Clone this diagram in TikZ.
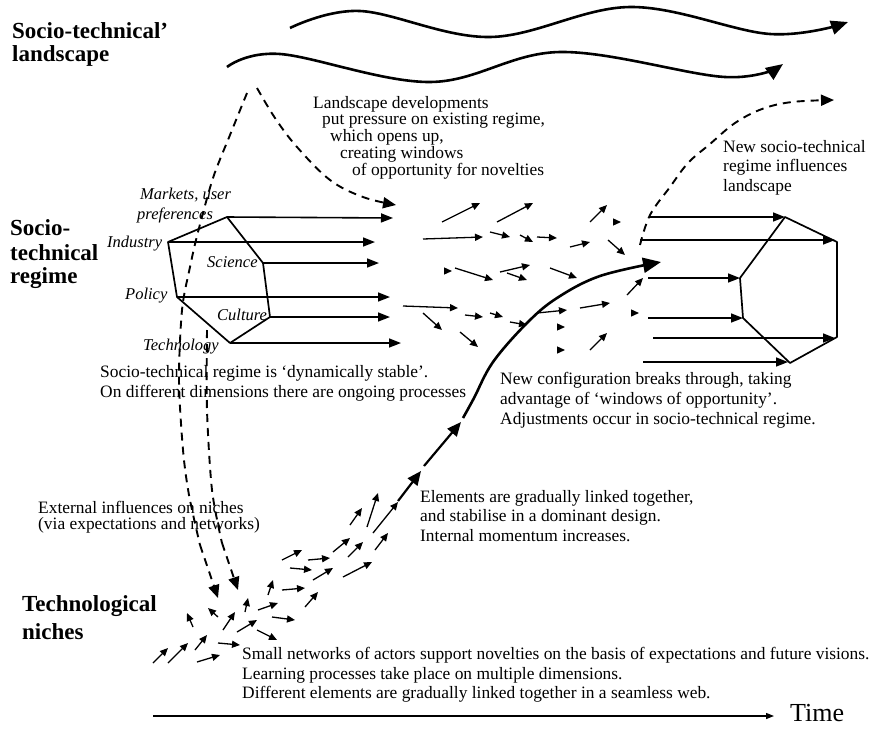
\documentclass[tikz,border=0pt]{standalone}
\usepackage{fontspec}
\setmainfont{Liberation Serif}
\usetikzlibrary{arrows.meta}

\begin{document}
\begin{tikzpicture}[x=1pt,y=-1pt,
  wave/.style={line width=2.6pt, -{Triangle[length=17pt,width=14pt]}},
  dashpath/.style={line width=1.9pt, dash pattern=on 8pt off 6pt},
  dashtip/.style={-{Triangle[length=13pt,width=11pt]}},
  regarrow/.style={line width=1.6pt, -{Triangle[length=12pt,width=9pt]}},
  hexline/.style={line width=1.7pt, line join=round},
  small/.style={line width=1.3pt, -{Triangle[length=8pt,width=7pt]}},
  traj/.style={line width=2.2pt, -{Triangle[length=14pt,width=12pt]}},
  trajbig/.style={line width=2.6pt, -{Triangle[length=18pt,width=15pt]}},
  timearrow/.style={line width=1.3pt, -{Triangle[length=8pt,width=6pt]}},
  level/.style={font=\fontsize{23}{26}\selectfont\bfseries, inner sep=0pt, anchor=west},
  dim/.style={font=\fontsize{16.5}{18}\selectfont\itshape, inner sep=0pt, anchor=west},
  txt/.style={font=\fontsize{17.4}{19}\selectfont, inner sep=0pt, anchor=west},
]
\useasboundingbox[fill=white] (0,0) rectangle (873,729);

% ---------- level titles ----------
\node[level] (tl1) at (12,31) {Socio-technical'};
\node[level] (tl2) at (12,56) {landscape};
\node[level] (tr1) at (10,228) {Socio-};
\node[level] (tr2) at (10,253) {technical};
\node[level] (tr3) at (10,278) {regime};
\node[level] (tn1) at (22,606) {Technological};
\node[level] (tn2) at (22,632) {niches};

% ---------- landscape trends ----------
\draw[wave] plot[smooth, tension=0.6] coordinates
  {(290,28) (360,11) (490,37) (630,7) (770,34) (848,22)};
\draw[wave] plot[smooth, tension=0.6] coordinates
  {(227,67) (280,54) (430,82) (560,52) (725,77) (783,64)};

% ---------- existing regime (left hexagon) ----------
\coordinate (mk) at (227,217);
\coordinate (in) at (168,242);
\coordinate (po) at (177,297);
\coordinate (te) at (230,343);
\coordinate (cu) at (270,317);
\coordinate (sc) at (263,263);
\draw[hexline] (mk) -- (in) -- (po) -- (te) -- (cu) -- (sc) -- cycle;

\coordinate (mkE) at (393,218);
\coordinate (inE) at (375,242);
\coordinate (scE) at (379,263);
\coordinate (poE) at (390,297);
\coordinate (cuE) at (390,317);
\coordinate (teE) at (401,343);
\draw[regarrow] (mk) -- (mkE);
\draw[regarrow] (in) -- (inE);
\draw[regarrow] (sc) -- (scE);
\draw[regarrow] (po) -- (poE);
\draw[regarrow] (cu) -- (cuE);
\draw[regarrow] (te) -- (teE);

\node[dim] (d1) at (140,195) {Markets, user};
\node[dim] (d2) at (137,215) {preferences};
\node[dim] (d3) at (107,244) {Industry};
\node[dim] (d4) at (207,262) {Science};
\node[dim] (d5) at (125,296) {Policy};
\node[dim] (d6) at (217,315) {Culture};
\node[dim] (d7) at (143,347) {Technology};

% ---------- new regime (right hexagon) ----------
\coordinate (r1) at (785,217);
\coordinate (r2) at (837,242);
\coordinate (r3) at (837,337);
\coordinate (r4) at (790,363);
\coordinate (r5) at (743,318);
\coordinate (r6) at (740,278);
\draw[hexline] (r1) -- (r2) -- (r3) -- (r4) -- (r5) -- (r6) -- cycle;

\coordinate (s1) at (650,217);
\coordinate (s2) at (640,240);
\coordinate (s3) at (648,278);
\coordinate (s4) at (648,318);
\coordinate (s5) at (653,338);
\coordinate (s6) at (643,362);
\draw[regarrow] (s1) -- (r1);
\draw[regarrow] (s2) -- (835,240);
\draw[regarrow] (s3) -- (r6);
\draw[regarrow] (s4) -- (r5);
\draw[regarrow] (s5) -- (835,338);
\draw[regarrow] (s6) -- (788,362);

% ---------- dashed influences ----------
\draw[dashpath] plot[smooth, tension=0.5] coordinates
  {(247,93) (230,135) (213,178) (198,232) (190,267) (182,310) (179,380) (183,450) (189,495) (200,545)};
\draw[dashpath, dashtip] (200,545) -- (218,598);
\draw[dashpath, dashtip] plot[smooth, tension=0.6] coordinates
  {(257,88) (275,118) (297,147) (330,180) (363,197) (396,205)};
\draw[dashpath] plot[smooth, tension=0.5] coordinates
  {(207,330) (207,410) (212,490) (222,543)};
\draw[dashpath, dashtip] (222,543) -- (238,590);
\draw[dashpath, dashtip] plot[smooth, tension=0.6] coordinates
  {(640,245) (650,215) (670,187) (688,163) (710,144) (735,123) (762,109) (792,102) (834,100)};

% ---------- loose elements around the regime ----------
\foreach \ax/\ay/\bx/\by in {
  442/222/480/203, 497/222/533/203, 590/222/607/205, 613/222/621/222,
  423/239/483/237, 490/232/510/237, 520/235/533/242, 537/237/557/238,
  570/247/590/242, 608/240/625/255,
  444/271/452/271, 455/268/493/280, 500/272/530/265, 507/273/527/280,
  550/268/577/278,
  403/306/458/308, 423/313/442/330, 465/315/483/317, 490/313/503/317,
  510/322/527/325, 537/313/567/310, 580/308/610/303, 460/332/478/347,
  557/327/565/327, 557/350/565/350, 590/350/607/333, 627/295/643/278,
  631/313/639/313}
  \draw[small] (\ax,\ay) -- (\bx,\by);

% ---------- niche elements ----------
\foreach \ax/\ay/\bx/\by in {
  153/663/168/648, 168/663/188/643, 195/650/207/635, 197/662/220/655,
  218/643/240/645, 193/627/187/613, 218/617/208/608, 223/630/235/612,
  237/632/257/620, 257/630/277/640, 245/612/248/598, 258/610/278/603,
  272/617/295/620, 268/595/273/580, 282/590/305/588, 305/607/318/592,
  282/560/302/550, 290/568/312/570, 308/560/330/558, 313/580/333/568,
  343/577/372/562, 333/552/350/538, 348/557/363/542, 375/550/388/533,
  350/525/362/508, 367/527/378/493, 373/533/398/502}
  \draw[small] (\ax,\ay) -- (\bx,\by);

% ---------- niche trajectory breaking through ----------
\coordinate (t0) at (398,501);
\coordinate (t1) at (421,471);
\coordinate (t2) at (424,466);
\coordinate (t3) at (461,422);
\coordinate (t4) at (463,418);
\coordinate (t5) at (661,262);
\draw[traj] (t0) -- (t1);
\draw[traj] (t2) -- (t3);
\draw[trajbig] plot[smooth, tension=0.6] coordinates
  {(t4) (474,398) (493,362) (527,323) (557,298) (600,276) (t5)};

% ---------- explanatory texts ----------
\node[txt] (la1) at (313,104) {Landscape developments};
\node[txt] (la2) at (322,121) {put pressure on existing regime,};
\node[txt] (la3) at (330,137) {which opens up,};
\node[txt] (la4) at (340,154) {creating windows};
\node[txt] (la5) at (352,171) {of opportunity for novelties};

\node[txt] (nr1) at (723,147) {New socio-technical};
\node[txt] (nr2) at (723,167) {regime influences};
\node[txt] (nr3) at (723,187) {landscape};

\node[txt] (rg1) at (100,373) {Socio-technical regime is `dynamically stable'.};
\node[txt] (rg2) at (100,393) {On different dimensions there are ongoing processes};

\node[txt] (bt1) at (500,380) {New configuration breaks through, taking};
\node[txt] (bt2) at (500,400) {advantage of `windows of opportunity'.};
\node[txt] (bt3) at (500,420) {Adjustments occur in socio-technical regime.};

\node[txt] (el1) at (420,498) {Elements are gradually linked together,};
\node[txt] (el2) at (420,517) {and stabilise in a dominant design.};
\node[txt] (el3) at (420,536) {Internal momentum increases.};

\node[txt] (ex1) at (38,507) {External influences on niches};
\node[txt] (ex2) at (38,525) {(via expectations and networks)};

\node[txt] (sn1) at (242,655) {Small networks of actors support novelties on the basis of expectations and future visions.};
\node[txt] (sn2) at (242,675) {Learning processes take place on multiple dimensions.};
\node[txt] (sn3) at (242,694) {Different elements are gradually linked together in a seamless web.};

% ---------- time axis ----------
\coordinate (ta) at (153,716);
\coordinate (tb) at (774,716);
\draw[timearrow] (ta) -- (tb);
\node[font=\fontsize{26}{29}\selectfont, inner sep=0pt, anchor=base west] (time) at (790,721) {Time};
\end{tikzpicture}
\end{document}
